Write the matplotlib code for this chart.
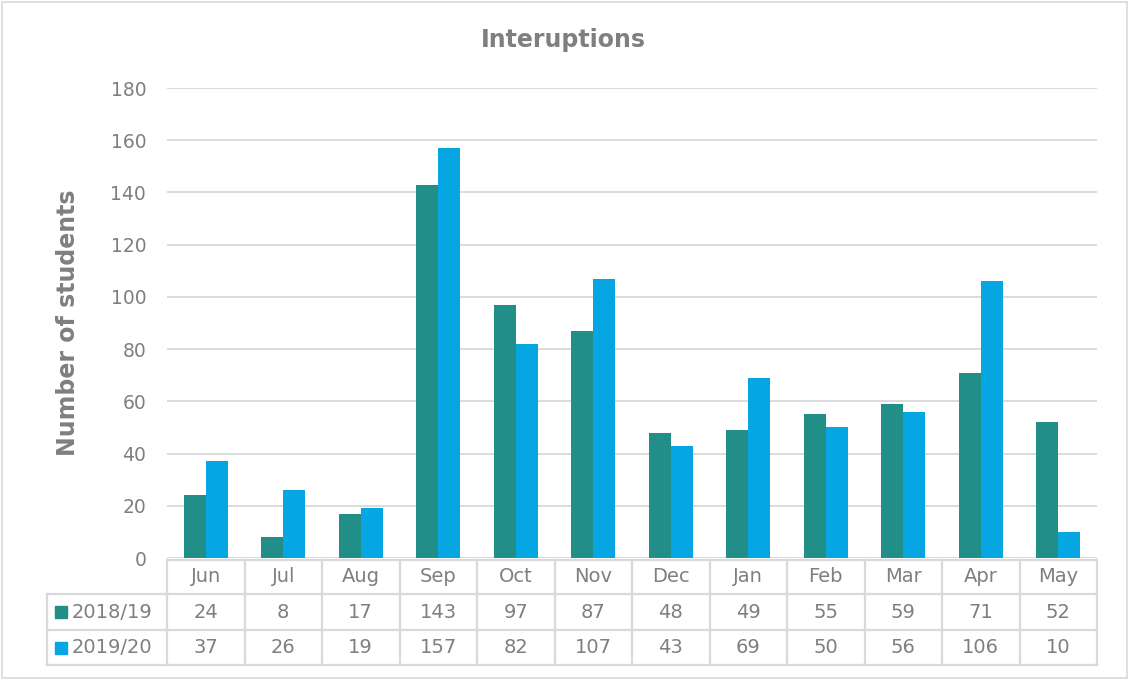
import matplotlib
matplotlib.use("Agg")
import matplotlib.pyplot as plt
import matplotlib.transforms as mtransforms
from matplotlib.patches import Rectangle
import numpy as np

months = ["Jun", "Jul", "Aug", "Sep", "Oct", "Nov", "Dec", "Jan", "Feb", "Mar", "Apr", "May"]
series_names = ["2018/19", "2019/20"]
values_1819 = [24, 8, 17, 143, 97, 87, 48, 49, 55, 59, 71, 52]
values_1920 = [37, 26, 19, 157, 82, 107, 43, 69, 50, 56, 106, 10]
colors = ["#218F88", "#05A6E1"]

TEXT = "#7F7F7F"
GRID = "#D9D9D9"

plt.rcParams["font.family"] = ["DejaVu Sans"]

fig = plt.figure(figsize=(11.3, 6.81), dpi=100)
ax = fig.add_axes([167 / 1130, 1 - 558 / 681, 930 / 1130, 470 / 681])

x = np.arange(len(months))
w = 0.284
ax.bar(x - w / 2, values_1819, w, color=colors[0], zorder=3)
ax.bar(x + w / 2, values_1920, w, color=colors[1], zorder=3)

ax.set_xlim(-0.5, len(months) - 0.5)
ax.set_ylim(0, 180)
ax.set_yticks(range(0, 181, 20))
ax.tick_params(axis="y", length=0, pad=15, labelsize=13.5, labelcolor=TEXT)
ax.set_xticks([])
ax.grid(axis="y", color=GRID, lw=1.3, zorder=0)
for s in ax.spines.values():
    s.set_visible(False)

ax.set_ylabel("Number of students", fontsize=17, fontweight="bold", color=TEXT, labelpad=22)
fig.text(563 / 1130, 1 - 40 / 681, "Interuptions", ha="center", va="center",
         fontsize=17, fontweight="bold", color=TEXT)

# data table under the axis
ax_h = 470.0
trans = mtransforms.blended_transform_factory(ax.transData, ax.transAxes)
row_y = [-2 / ax_h, -36 / ax_h, -72 / ax_h, -107 / ax_h]
px_per_cat = 930 / len(months)
left_edge = -0.5 - 120 / px_per_cat
lk = dict(color=GRID, lw=1.6, transform=trans, clip_on=False, zorder=1)

for yy in row_y:
    ax.plot([-0.5, len(months) - 0.5], [yy, yy], **lk)
for yy in row_y[1:]:
    ax.plot([left_edge, -0.5], [yy, yy], **lk)
for k in range(len(months) + 1):
    ax.plot([k - 0.5, k - 0.5], [row_y[0], row_y[-1]], **lk)
ax.plot([left_edge, left_edge], [row_y[1], row_y[-1]], **lk)

fs = 14
for i, m in enumerate(months):
    ymid = (row_y[0] + row_y[1]) / 2
    ax.text(i, ymid, m, ha="center", va="center", fontsize=fs, color=TEXT, transform=trans)
for r, vals in enumerate([values_1819, values_1920]):
    ymid = (row_y[r + 1] + row_y[r + 2]) / 2
    for i, v in enumerate(vals):
        ax.text(i, ymid, str(v), ha="center", va="center", fontsize=fs, color=TEXT, transform=trans)
    sq = 12 / px_per_cat
    ax.add_patch(Rectangle((left_edge + 8 / px_per_cat, ymid - 6 / ax_h), sq, 12 / ax_h,
                           color=colors[r], transform=trans, clip_on=False))
    ax.text(left_edge + 25 / px_per_cat, ymid, series_names[r], ha="left", va="center",
            fontsize=fs, color=TEXT, transform=trans)

# chart frame
fig.patches.append(Rectangle((2 / 1130, 3 / 681), 1125 / 1130, 676 / 681, fill=False,
                             edgecolor=GRID, lw=1.2, transform=fig.transFigure))

fig.savefig("out.png", dpi=100)
